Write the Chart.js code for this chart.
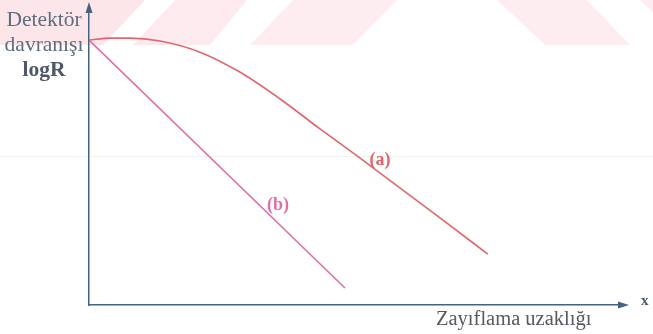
<!DOCTYPE html>
<html>
<head>
<meta charset="utf-8">
<script src="https://cdn.jsdelivr.net/npm/chart.js@4/dist/chart.umd.min.js"></script>
<style>
  html, body { margin: 0; padding: 0; background: #fff; }
  #wrap { position: relative; width: 653px; height: 334px; overflow: hidden; }
  #c { position: absolute; left: 0; top: 0; }
  .lbl { position: absolute; font-family: "Liberation Serif", "DejaVu Serif", serif; white-space: nowrap; }
</style>
</head>
<body>
<div id="wrap">
  <canvas id="c" width="653" height="334"></canvas>
  <div class="lbl" style="left:0px;top:7px;width:88px;text-align:center;font-size:21.5px;line-height:25px;color:#5e6c80;">Detektör<br>davranışı<br><b style="color:#4f5868;">logR</b></div>
  <div class="lbl" style="left:436px;top:307px;font-size:20.5px;line-height:22px;color:#555a60;">Zayıflama uzaklığı</div>
  <div class="lbl" style="left:641px;top:292px;font-size:15px;line-height:16px;font-weight:bold;color:#4c5a6a;">x</div>
</div>
<script>
// Attenuation distance (arbitrary units) and detector response logR for the two cases
const distanceA = [0, 0.40, 0.77, 1.34, 2.09, 2.84, 3.60, 4.35, 5.10, 5.86, 6.61, 7.51];
const logRA     = [9.04, 9.11, 9.11, 9.01, 8.63, 7.95, 7.03, 6.01, 5.02, 3.99, 2.97, 1.74];
const distanceB = [0, 4.82];
const logRB     = [9.04, 0.58];

// Curve labels and where they sit along each curve
const curveLabels = ['(a)', '(b)'];
const labelX = [5.48, 3.56];
const labelY = [4.95, 3.41];

const colorA = '#e2656e';
const colorB = '#e070a4';
const axisColor = '#45627f';

const toPoints = (xs, ys) => xs.map((x, i) => ({ x: x, y: ys[i] }));

// Pale banner shapes along the top edge of the page
const bannerPlugin = {
  id: 'banner',
  beforeDraw(chart) {
    const ctx = chart.ctx;
    ctx.save();
    const shapes = [
      { c: '#fce6ea', p: [[0,0],[145,0],[103,45],[0,45]] },
      { c: '#fdeaee', p: [[175,0],[247,0],[210,45],[133,45]] },
      { c: '#fdedf0', p: [[293,0],[397,0],[353,45],[250,45]] },
      { c: '#fdedf0', p: [[497,0],[587,0],[630,45],[545,45]] },
      { c: '#fdedf0', p: [[640,0],[653,0],[653,13]] }
    ];
    shapes.forEach(s => {
      ctx.fillStyle = s.c;
      ctx.beginPath();
      s.p.forEach((pt, i) => i ? ctx.lineTo(pt[0], pt[1]) : ctx.moveTo(pt[0], pt[1]));
      ctx.closePath();
      ctx.fill();
    });
    // faint horizontal rule across the page
    ctx.strokeStyle = '#f1f1f1';
    ctx.lineWidth = 1;
    ctx.beginPath();
    ctx.moveTo(0, 156.5);
    ctx.lineTo(653, 156.5);
    ctx.stroke();
    ctx.restore();
  }
};

// Arrow heads on both axes and the (a)/(b) curve labels
const decorPlugin = {
  id: 'decor',
  afterDraw(chart) {
    const ctx = chart.ctx;
    const a = chart.chartArea;
    const xs = chart.scales.x, ys = chart.scales.y;
    ctx.save();
    ctx.fillStyle = axisColor;
    ctx.strokeStyle = axisColor;
    ctx.lineWidth = 1.5;
    // y axis extension and arrow
    ctx.beginPath();
    ctx.moveTo(a.left, a.top);
    ctx.lineTo(a.left, a.top - 4);
    ctx.stroke();
    ctx.beginPath();
    ctx.moveTo(a.left, a.top - 10);
    ctx.lineTo(a.left - 3.5, a.top + 1);
    ctx.lineTo(a.left + 3.5, a.top + 1);
    ctx.closePath();
    ctx.fill();
    // x axis arrow
    ctx.beginPath();
    ctx.moveTo(a.right + 9, a.bottom);
    ctx.lineTo(a.right - 2, a.bottom - 3.5);
    ctx.lineTo(a.right - 2, a.bottom + 3.5);
    ctx.closePath();
    ctx.fill();

    ctx.font = 'bold 18px "Liberation Serif", serif';
    ctx.textAlign = 'center';
    ctx.textBaseline = 'middle';
    const colors = [colorA, colorB];
    curveLabels.forEach((t, i) => {
      ctx.fillStyle = colors[i];
      ctx.fillText(t, xs.getPixelForValue(labelX[i]), ys.getPixelForValue(labelY[i]));
    });
    ctx.restore();
  }
};

new Chart(document.getElementById('c'), {
  type: 'line',
  data: {
    datasets: [
      {
        label: '(a)',
        data: toPoints(distanceA, logRA),
        borderColor: colorA,
        borderWidth: 1.6,
        pointRadius: 0,
        cubicInterpolationMode: 'monotone',
        fill: false
      },
      {
        label: '(b)',
        data: toPoints(distanceB, logRB),
        borderColor: colorB,
        borderWidth: 1.6,
        pointRadius: 0,
        fill: false
      }
    ]
  },
  options: {
    responsive: false,
    animation: false,
    layout: { padding: { left: 89, right: 33, top: 12, bottom: 29 } },
    plugins: { legend: { display: false }, tooltip: { enabled: false } },
    scales: {
      x: {
        type: 'linear', min: 0, max: 10,
        grid: { display: false, drawTicks: false },
        border: { display: true, color: axisColor, width: 1.5 },
        ticks: { display: false }
      },
      y: {
        type: 'linear', min: 0, max: 10,
        grid: { display: false, drawTicks: false },
        border: { display: true, color: axisColor, width: 1.5 },
        ticks: { display: false }
      }
    }
  },
  plugins: [bannerPlugin, decorPlugin]
});
</script>
</body>
</html>
